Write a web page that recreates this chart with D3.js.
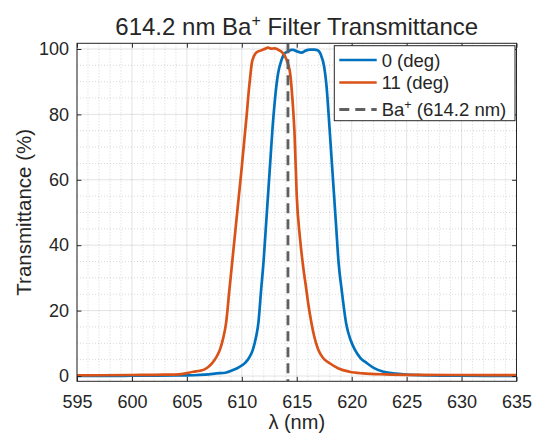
<!DOCTYPE html>
<html lang="en">
<head>
    <meta charset="UTF-8">
    <title>614.2 nm Ba+ Filter Transmittance</title>
    <script src="https://d3js.org/d3.v7.min.js"></script>
    <style>
        body { margin: 0; background: #fff; }
        text { font-family: "Liberation Sans", Arial, Helvetica, sans-serif; fill: #262626; }
        .grid line { stroke: #262626; stroke-opacity: 0.13; }
        .minor line { stroke: #262626; stroke-opacity: 0.18; stroke-dasharray: 1,2; }
    </style>
</head>
<body>
<svg width="534" height="435"></svg>
<script>
    // wavelength (nm) and transmittance (%)
    var lam0 = [595, 598, 600, 602, 604, 605, 606, 607, 607.7, 608.5, 609.2, 609.8, 610.3, 610.7, 611.0, 611.3,
        611.5, 611.75, 612.0, 612.2, 612.4, 612.6, 612.8, 613.0, 613.3, 613.6, 613.9, 614.2, 614.5, 614.7,
        615.0, 615.45, 615.8, 616.2, 616.6, 616.9, 617.2, 617.5, 617.7, 617.9, 618.0, 618.2, 618.4, 618.6,
        618.8, 619.1, 619.5, 619.9, 620.3, 620.8, 621.4, 622.0, 622.9, 624, 625, 627, 630, 635];
    var deg0 = [0.05, 0.05, 0.08, 0.1, 0.15, 0.2, 0.3, 0.5, 0.8, 1.0, 1.8, 2.8, 4.0, 5.8, 8.0, 12,
        16, 26, 36, 46, 56, 66, 76, 84, 92.5, 96.5, 98.7, 99.2, 99.7, 99.7,
        99.3, 98.9, 99.5, 99.8, 99.8, 99.6, 98.2, 94.5, 89, 80, 75, 65, 55, 45,
        35, 26, 16, 11, 8, 5.5, 3.9, 2.5, 1.3, 0.7, 0.4, 0.2, 0.1, 0.05];

    var lam11 = [595, 600, 603, 604.5, 605.6, 606.2, 606.7, 607.1, 607.5, 607.8, 608.0, 608.3, 608.56, 608.86,
        609.1, 609.4, 609.7, 610.0, 610.25, 610.45, 610.6, 610.75, 610.9, 611.1, 611.35, 611.7, 612.0, 612.4,
        612.7, 613.0, 613.3, 613.6, 613.9, 614.2, 614.4, 614.6, 614.8, 615.0, 615.3, 615.6, 615.85, 616.05,
        616.35, 616.6, 616.96, 617.4, 618.0, 618.8, 619.8, 621, 623, 626, 630, 635];
    var deg11 = [0.2, 0.3, 0.4, 0.6, 1.3, 1.6, 2.2, 3.2, 4.8, 6.5, 8.0, 11.5, 16, 26,
        34, 44, 54, 64, 73, 80, 86, 91, 95.5, 97.8, 99.0, 99.5, 99.9, 100.4,
        100.1, 100.2, 99.8, 99.2, 98.0, 95.5, 92.5, 85, 74, 55, 42, 33, 27, 22,
        16, 12, 8, 5.5, 3.9, 2.3, 1.3, 0.8, 0.5, 0.35, 0.3, 0.25];

    var baLine = 614.2;
    var xTicks = [595, 600, 605, 610, 615, 620, 625, 630, 635];
    var yTicks = [0, 20, 40, 60, 80, 100];
    var seriesNames = ["0 (deg)", "11 (deg)"];

    var svg = d3.select("svg");
    var pLeft = 77, pRight = 516.5, pTop = 43.3, pBottom = 381.3;

    var x = d3.scaleLinear().domain([595, 635]).range([pLeft, pRight]);
    var y = d3.scaleLinear().domain([-1.62, 101.74]).range([pBottom, pTop]);

    // minor grid
    var minorX = d3.range(596, 635, 1).filter(function (d) { return d % 5 !== 0; });
    var minorY = d3.range(5, 101, 5).filter(function (d) { return d % 20 !== 0; });
    var mg = svg.append("g").attr("class", "minor");
    mg.selectAll(".mx").data(minorX).enter().append("line")
        .attr("x1", x).attr("x2", x).attr("y1", pTop).attr("y2", pBottom);
    mg.selectAll(".my").data(minorY).enter().append("line")
        .attr("x1", pLeft).attr("x2", pRight).attr("y1", y).attr("y2", y);

    // major grid
    var g = svg.append("g").attr("class", "grid");
    g.selectAll(".gx").data(xTicks).enter().append("line")
        .attr("x1", x).attr("x2", x).attr("y1", pTop).attr("y2", pBottom);
    g.selectAll(".gy").data(yTicks).enter().append("line")
        .attr("x1", pLeft).attr("x2", pRight).attr("y1", y).attr("y2", y);

    var line = d3.line().curve(d3.curveMonotoneX)
        .x(function (d) { return x(d[0]); })
        .y(function (d) { return y(d[1]); });

    svg.append("clipPath").attr("id", "clip").append("rect")
        .attr("x", pLeft).attr("y", pTop).attr("width", pRight - pLeft).attr("height", pBottom - pTop);

    var plot = svg.append("g").attr("clip-path", "url(#clip)");

    plot.append("path")
        .datum(d3.zip(lam0, deg0))
        .attr("d", line)
        .attr("fill", "none").attr("stroke", "#0072BD").attr("stroke-width", 2.7);

    plot.append("path")
        .datum(d3.zip(lam11, deg11))
        .attr("d", line)
        .attr("fill", "none").attr("stroke", "#D95319").attr("stroke-width", 2.7);

    plot.append("line")
        .attr("x1", x(baLine)).attr("x2", x(baLine)).attr("y1", pTop).attr("y2", pBottom)
        .attr("stroke", "#5f5f5f").attr("stroke-width", 2.8).attr("stroke-dasharray", "10,6");

    // axes: box with inward ticks
    var tl = 4.4;
    var xb = d3.axisBottom(x).tickValues(xTicks).tickSizeInner(-tl).tickSizeOuter(0).tickPadding(14);
    var yl = d3.axisLeft(y).tickValues(yTicks).tickSizeInner(-tl).tickSizeOuter(0).tickPadding(8);
    var xt = d3.axisTop(x).tickValues(xTicks).tickSizeInner(-tl).tickSizeOuter(0).tickFormat("");
    var yr = d3.axisRight(y).tickValues(yTicks).tickSizeInner(-tl).tickSizeOuter(0).tickFormat("");

    function styleAxis(sel) {
        sel.select(".domain").remove();
        sel.selectAll(".tick line").attr("stroke", "#262626");
        sel.selectAll("text").style("font-size", "18px").attr("fill", "#262626");
    }
    svg.append("g").attr("transform", "translate(0," + pBottom + ")").call(xb).call(styleAxis);
    svg.append("g").attr("transform", "translate(" + pLeft + ",0)").call(yl).call(styleAxis);
    svg.append("g").attr("transform", "translate(0," + pTop + ")").call(xt).call(styleAxis);
    svg.append("g").attr("transform", "translate(" + pRight + ",0)").call(yr).call(styleAxis);

    svg.append("rect")
        .attr("x", pLeft).attr("y", pTop).attr("width", pRight - pLeft).attr("height", pBottom - pTop)
        .attr("fill", "none").attr("stroke", "#262626").attr("stroke-width", 1);

    // labels
    var title = svg.append("text").attr("x", (pLeft + pRight) / 2).attr("y", 35)
        .attr("text-anchor", "middle").style("font-size", "24px");
    title.append("tspan").text("614.2 nm Ba");
    title.append("tspan").attr("dy", -9).style("font-size", "16px").text("+");
    title.append("tspan").attr("dy", 9).text(" Filter Transmittance");

    svg.append("text").attr("x", (pLeft + pRight) / 2).attr("y", 429)
        .attr("text-anchor", "middle").style("font-size", "20px").text("λ (nm)");

    svg.append("text").attr("transform", "translate(31," + ((pTop + pBottom) / 2) + ") rotate(-90)")
        .attr("text-anchor", "middle").style("font-size", "20.5px").text("Transmittance (%)");

    // legend
    var lg = svg.append("g");
    lg.append("rect").attr("x", 334.3).attr("y", 45.7).attr("width", 180.7).attr("height", 75)
        .attr("fill", "#fff").attr("stroke", "#262626").attr("stroke-width", 1);
    var rows = [
        { y: 60, color: "#0072BD", dash: null, label: seriesNames[0] },
        { y: 82.5, color: "#D95319", dash: null, label: seriesNames[1] },
        { y: 109.5, color: "#5f5f5f", dash: "10,6", label: null }
    ];
    rows.forEach(function (r) {
        lg.append("line").attr("x1", 339.3).attr("x2", 376.7).attr("y1", r.y).attr("y2", r.y)
            .attr("stroke", r.color).attr("stroke-width", r.dash ? 2.8 : 2.7)
            .attr("stroke-dasharray", r.dash);
        var t = lg.append("text").attr("x", 381.7).attr("y", r.y + 6.5).style("font-size", "18.5px");
        if (r.label) {
            t.text(r.label);
        } else {
            t.append("tspan").text("Ba");
            t.append("tspan").attr("dy", -7).style("font-size", "12.5px").text("+");
            t.append("tspan").attr("dy", 7).text(" (614.2 nm)");
        }
    });
</script>
</body>
</html>
